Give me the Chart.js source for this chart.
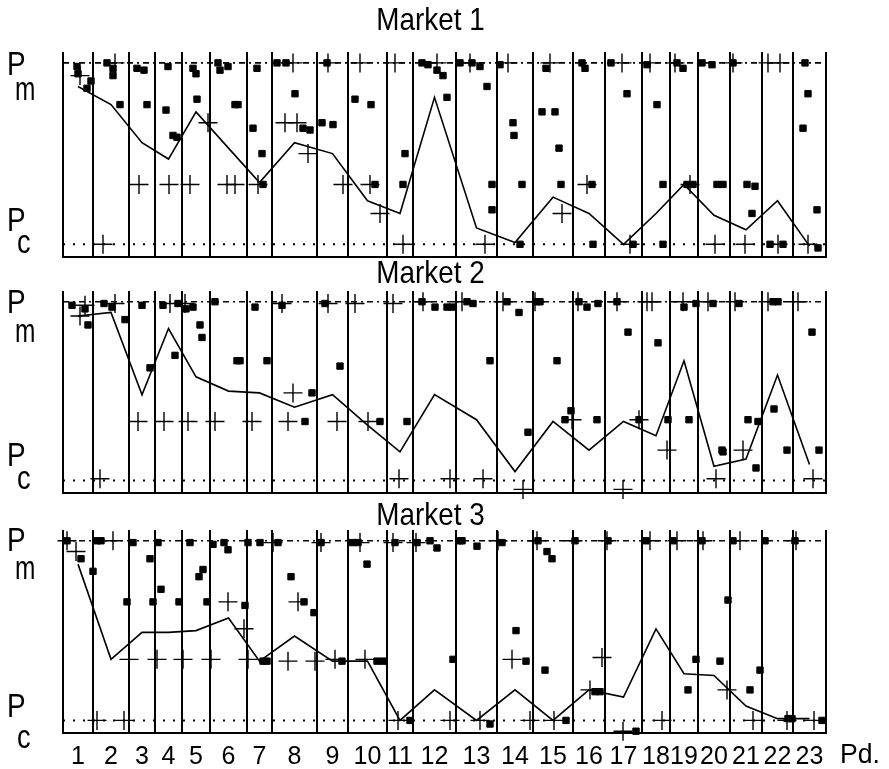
<!DOCTYPE html>
<html>
<head>
<meta charset="utf-8">
<script src="https://cdn.jsdelivr.net/npm/chart.js@4.4.1/dist/chart.umd.min.js"></script>
<style>
  body { margin: 0; background: #fff; }
  #wrap { position: relative; width: 889px; height: 769px; overflow: hidden; }
  canvas { position: absolute; left: 0; top: 0; }
</style>
</head>
<body>
<div id="wrap">
  <canvas id="m1" width="889" height="769"></canvas>
  <canvas id="m2" width="889" height="769"></canvas>
  <canvas id="m3" width="889" height="769"></canvas>
</div>
<script>
// periods and their time boundaries (same for the three markets)
const periods = ['1','2','3','4','5','6','7','8','9','10','11','12','13','14','15','16','17','18','19','20','21','22','23'];
const periodEdges = [0,30,66,92,119,147,184,209,254,285,324,350,393,434,470,510,542,579,607,635,667,699,730,763];

// price scale: Pc = 0, Pm = 100
const priceLevels = [0, 100];
const priceLabels = ['c', 'm'];

// average price per period
const market1Line = [87,77,56,47,73,53,34,56,50,24,17,81,9,1,26,17,0,17,33,16,8,24,-1];
const market2Line = [92,94,48,85,58,50,49,41,48,31,16,48,34,5,33,17,33,25,67,8,12,59,9];
const market3Line = [87,34,49,49,50,57,33,47,33,33,0,17,0,17,0,17,13,51,26,25,8,1,1];

// filled squares [time, price]
const market1Squares = [
  [14,98],[15,94],[24,86],[28,90],
  [44,100],[50,97],[50,93],[57,77],
  [74,97],[81,96],[84,77],
  [105,98],[103,74],[110,60],[114,59],
  [130,97],[133,94],[134,80],
  [155,100],[157,96],[165,98],[172,77],[175,77],
  [194,97],[190,64],[199,50],[200,33],
  [214,100],[223,100],[232,83],[240,64],[247,63],
  [259,67],[270,66],[264,100],
  [292,80],[308,77],[312,33],
  [342,50],[340,33],
  [359,100],[365,99],[374,96],[380,93],[384,81],
  [397,100],[409,100],[417,98],[424,87],[429,33],[429,19],
  [437,99],[450,67],[451,60],[459,33],[457,0],
  [483,97],[479,73],[492,73],[496,53],[498,33],
  [519,100],[522,97],[530,0],[529,33],
  [548,100],[564,83],[570,0],
  [584,99],[594,77],[600,33],[600,0],
  [614,100],[620,97],[624,33],[630,33],
  [639,100],[649,99],[654,33],[660,33],
  [670,100],[684,33],[692,32],[689,17],
  [707,0],[720,0],
  [742,100],[745,83],[740,64],[754,19],[755,-2]
];
const market2Squares = [
  [9,98],[22,96],[25,87],
  [41,99],[49,97],[62,90],
  [79,98],[87,63],
  [100,98],[115,99],[112,70],
  [123,96],[130,97],[137,87],[139,80],
  [152,100],[174,67],[177,67],
  [192,97],[204,67],
  [219,98],[249,49],[242,33],
  [262,99],[277,64],
  [317,33],
  [344,33],
  [359,100],[372,97],[384,97],[389,97],
  [404,100],[410,99],[427,67],
  [444,100],[456,94],[465,27],
  [474,100],[477,100],[494,67],[508,39],[502,34],
  [516,100],[524,97],[535,99],[534,34],
  [554,100],[565,83],[576,34],
  [595,77],[605,34],
  [621,97],[633,99],[626,34],
  [650,99],[659,17],[660,16],
  [676,99],[685,34],[695,33],[693,7],
  [710,100],[715,100],[711,40],[724,17],
  [749,83],[756,17]
];
const market3Squares = [
  [4,100],[18,90],[30,83],
  [34,100],[38,100],[64,66],
  [70,99],[87,90],[90,66],
  [95,99],[98,73],[116,66],
  [127,99],[136,80],[140,84],[144,66],
  [150,98],[161,99],[165,95],[182,64],
  [185,99],[197,99],[204,33],[200,33],
  [215,99],[228,80],[241,66],[251,60],
  [258,99],[279,33],
  [289,99],[295,99],[304,87],[314,33],[320,33],
  [332,99],[347,0],
  [354,99],[367,100],[374,96],[390,34],
  [397,100],[399,100],[414,97],[427,-2],
  [439,99],[453,50],[463,33],
  [475,100],[484,94],[489,90],[482,28],[503,0],
  [512,100],[532,16],[537,16],
  [545,100],[573,-6],
  [583,100],
  [610,100],[625,17],[633,34],
  [639,100],[657,33],[665,67],
  [670,100],[687,17],[697,28],
  [702,100],[725,1],[729,1],
  [732,100],[759,0]
];

// crosses [time, price]
const market1Crosses = [
  [17,93],[52,100],[40,0],[76,33],[106,33],[127,33],[145,67],[164,33],[172,33],[195,33],
  [230,100],[222,67],[234,67],[245,50],[265,100],[280,33],[297,100],[307,33],[317,17],
  [332,100],[340,0],[374,100],[407,100],[422,0],[445,100],[487,100],[499,17],[524,33],
  [559,100],[567,0],[587,100],[612,100],[627,33],[652,0],[670,100],[682,0],[705,100],
  [717,100],[715,0],[745,0]
];
const market2Crosses = [
  [17,92],[22,98],[37,1],[52,99],[75,33],[107,99],[101,33],[122,99],[125,33],[152,33],
  [189,33],[219,99],[230,49],[225,33],[265,99],[274,33],[292,99],[305,33],[330,99],[336,1],
  [360,100],[387,1],[399,100],[420,1],[440,100],[460,-5],[472,100],[509,34],[515,100],
  [554,100],[576,34],[560,-5],[584,100],[589,100],[604,17],[620,100],[645,100],[653,1],
  [672,100],[680,17],[705,100],[735,100],[750,1]
];
const market3Crosses = [
  [4,100],[13,94],[50,100],[34,0],[61,0],[66,34],[94,34],[120,34],[148,34],[165,66],
  [181,51],[185,34],[210,99],[235,66],[225,33],[252,33],[258,99],[272,34],[297,99],[302,34],
  [330,99],[335,0],[353,99],[387,0],[417,0],[435,100],[449,34],[467,0],[474,100],[491,0],
  [510,100],[539,35],[527,17],[544,100],[560,-6],[587,100],[599,0],[614,100],[640,100],
  [664,17],[677,100],[690,0],[724,0],[733,100],[751,0]
];

const BLACK = '#000';
const FONT = "'Liberation Sans', Arial, sans-serif";

function narrowText(ctx, text, x, y, size, sx, align) {
  ctx.save();
  ctx.translate(x, y);
  ctx.scale(sx, 1);
  ctx.font = size + 'px ' + FONT;
  ctx.textAlign = align || 'left';
  ctx.textBaseline = 'alphabetic';
  ctx.fillText(text, 0, 0);
  ctx.restore();
}

const panelText = {
  id: 'panelText',
  afterDraw(chart, args, o) {
    const {ctx, chartArea} = chart;
    const y = chart.scales.y;
    const pm = y.getPixelForValue(priceLevels[1]);
    const pc = y.getPixelForValue(priceLevels[0]);
    ctx.save();
    ctx.fillStyle = BLACK;
    narrowText(ctx, o.title, (chartArea.left + chartArea.right) / 2 - 14, chartArea.top - o.titleGap, 32, 0.87, 'center');
    narrowText(ctx, 'P', 7, pm + o.pm[0], 34, 0.82);
    narrowText(ctx, priceLabels[1], 15, pm + o.pm[1], 34, 0.72);
    narrowText(ctx, 'P', 7, pc + o.pc[0], 34, 0.82);
    narrowText(ctx, priceLabels[0], 17, pc + o.pc[1], 34, 0.8);
    if (o.unit) narrowText(ctx, o.unit, chartArea.right + 14, chartArea.bottom + 30, 28, 0.95);
    ctx.restore();
  }
};

const centers = periods.map((p, i) => (periodEdges[i] + periodEdges[i + 1]) / 2);
const xMin = periodEdges[0], xMax = periodEdges[periodEdges.length - 1];
const pts = arr => arr.map(([x, y]) => ({x, y}));

function makeMarket(id, top, bottom, line, squares, crosses, text) {
  const showTicks = !!text.unit;
  const axisH = showTicks ? 36 : 0;
  new Chart(document.getElementById(id), {
    type: 'scatter',
    data: {
      datasets: [
        { data: [{x: xMin, y: priceLevels[1]}, {x: xMax, y: priceLevels[1]}], showLine: true,
          borderColor: BLACK, borderWidth: 1.6, borderDash: [6, 4, 2, 4], pointRadius: 0 },
        { data: [{x: xMin, y: priceLevels[0]}, {x: xMax, y: priceLevels[0]}], showLine: true,
          borderColor: BLACK, borderWidth: 2, borderDash: [2, 8], pointRadius: 0 },
        { data: line.map((v, i) => ({x: centers[i], y: v})), showLine: true,
          borderColor: BLACK, borderWidth: 1.6, pointRadius: 0 },
        { data: pts(squares), pointStyle: 'rect', pointRadius: 4.5,
          backgroundColor: BLACK, borderColor: BLACK, borderWidth: 1, clip: 10 },
        { data: pts(crosses), pointStyle: 'cross', pointRadius: 9.5,
          borderColor: BLACK, borderWidth: 1.4, clip: 12 }
      ]
    },
    options: {
      responsive: false,
      animation: false,
      events: [],
      layout: { padding: { left: 63, right: 63, top: top, bottom: 769 - bottom - axisH } },
      plugins: { legend: { display: false }, tooltip: { enabled: false }, panelText: text },
      scales: {
        x: {
          type: 'linear', min: xMin, max: xMax, position: 'bottom', weight: 1,
          grid: { display: false, drawTicks: false },
          border: { display: true, color: BLACK, width: 2 },
          ticks: { display: showTicks, autoSkip: false, maxRotation: 0, padding: 9,
                   color: BLACK, font: { family: FONT, size: 25 },
                   callback: (v, i) => periods[i] },
          afterBuildTicks: s => { s.ticks = centers.map(v => ({value: v})); },
          afterFit: s => { s.height = axisH; }
        },
        edges: {
          type: 'linear', min: xMin, max: xMax, position: 'bottom', weight: 2,
          grid: { color: BLACK, lineWidth: 2, drawTicks: false },
          border: { display: false },
          ticks: { display: false },
          afterBuildTicks: s => { s.ticks = periodEdges.map(v => ({value: v})); },
          afterFit: s => { s.height = 0; }
        },
        y: { min: -7, max: 106, display: false }
      }
    },
    plugins: [panelText]
  });
}

makeMarket('m1', 52, 257, market1Line, market1Squares, market1Crosses,
  { title: 'Market 1', titleGap: 22, pm: [12, 37], pc: [-13, 9] });
makeMarket('m2', 291, 493, market2Line, market2Squares, market2Crosses,
  { title: 'Market 2', titleGap: 8, pm: [11, 40], pc: [-14, 9] });
makeMarket('m3', 530, 733, market3Line, market3Squares, market3Crosses,
  { title: 'Market 3', titleGap: 5, pm: [10, 38], pc: [-3, 28], unit: 'Pd.' });
</script>
</body>
</html>
